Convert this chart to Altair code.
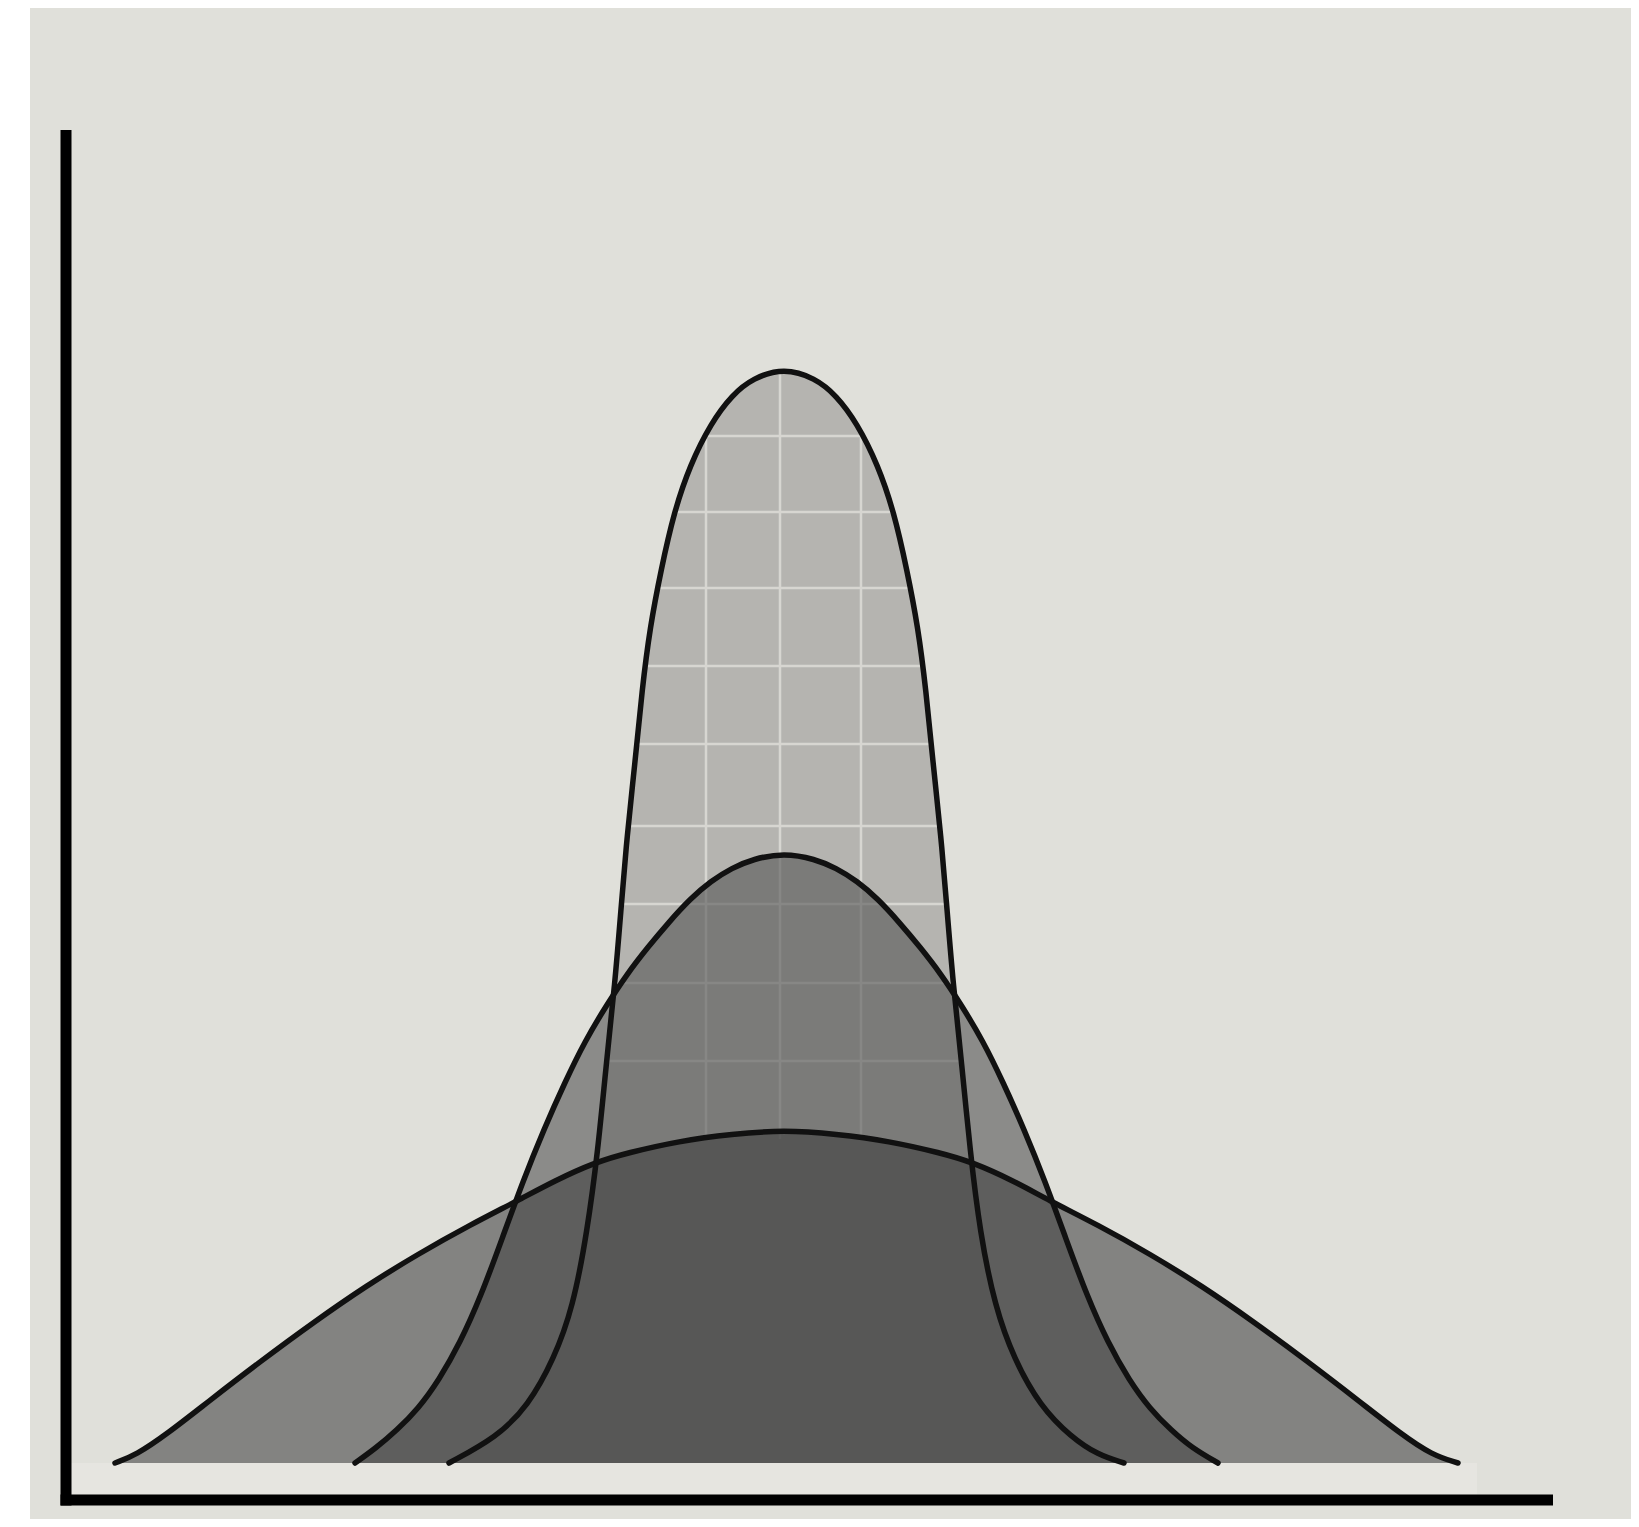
import altair as alt
import pandas as pd
import numpy as np

# Offsets from the common centre (x) and heights above the baseline (h)
narrow_x = [-338, -290, -259, -233, -214, -200, -189, -181, -172, -166, -160, -152, -145, -137, -126,
            -113, -97, -76, -55, -34, -3,
            28, 49, 70, 91, 107, 120, 131, 139, 146, 154, 160, 166, 175, 183, 193, 208, 227, 253,
            284, 311, 337]
narrow_h = [0, 26, 57, 104, 156, 230, 313, 397, 480, 554, 627, 700, 773, 836, 893,
            951, 998, 1040, 1068, 1085, 1095,
            1085, 1068, 1040, 998, 951, 893, 836, 773, 700, 627, 554, 480, 397, 313, 230, 156, 104, 57,
            26, 8, 0]

middle_x = [-432, -411, -390, -369, -348, -327, -306, -285, -264, -243, -222, -202, -181, -160, -139,
            -118, -97, -76, -55, -34, -3,
            28, 49, 70, 91, 112, 133, 154, 175, 196, 216, 237, 258, 279, 300, 321, 342, 363, 384,
            405, 431]
middle_h = [0, 15, 33, 54, 83, 120, 167, 224, 282, 334, 381, 422, 457, 489, 516,
            541, 564, 582, 595, 604, 610,
            604, 595, 582, 564, 541, 516, 489, 457, 422, 381, 334, 282, 224, 167, 120, 83, 54, 33,
            15, 0]

wide_x = [-672, -651, -620, -578, -526, -473, -421, -369, -317, -268, -233, -191, -160, -108, -55, -3,
          49, 102, 154, 185, 227, 261, 311, 363, 415, 467, 520, 572, 614, 645, 671]
wide_h = [0, 8, 29, 62, 102, 141, 177, 209, 238, 263, 282, 301, 310, 322, 329, 333,
          329, 322, 310, 301, 282, 263, 238, 209, 177, 141, 102, 62, 29, 8, 0]

grid_v_x = [-81, -7, 74]
grid_h_y = [1027, 951, 875, 797, 719, 637, 559, 480, 402]
grid_floor = 324

axis_x = -721
axis_y = -37
axis_top = 1333
axis_bottom = -42.5
axis_left = -726.5
axis_right = 766

band_left = -716
band_right = 690
band_bottom = -31.5

X_DOMAIN = [-757, 844]
Y_DOMAIN = [-56, 1455]

xs = alt.Scale(domain=X_DOMAIN, nice=False, zero=False)
ys = alt.Scale(domain=Y_DOMAIN, nice=False, zero=False)

narrow = pd.DataFrame({"x": narrow_x, "h": narrow_h})
middle = pd.DataFrame({"x": middle_x, "h": middle_h})
wide = pd.DataFrame({"x": wide_x, "h": wide_h})

# grid inside the narrow curve
nx = np.array(narrow_x, dtype=float)
nh = np.array(narrow_h, dtype=float)
pk = int(np.argmax(nh))
left_x = np.interp(grid_h_y, nh[:pk + 1], nx[:pk + 1])
right_x = np.interp(grid_h_y, nh[pk:][::-1], nx[pk:][::-1])
hgrid = pd.DataFrame({"x": left_x, "x2": right_x, "y": grid_h_y})
vtop = np.interp(grid_v_x, nx, nh)
vgrid = pd.DataFrame({"x": grid_v_x, "y": [grid_floor] * len(grid_v_x), "y2": vtop})

LINE_W = 5.5
INTERP = "basis"


def area(df, color, opacity):
    return alt.Chart(df).mark_area(interpolate=INTERP, color=color, opacity=opacity).encode(
        x=alt.X("x:Q", scale=xs, axis=None),
        y=alt.Y("h:Q", scale=ys, axis=None),
        y2=alt.datum(0),
    )


def outline(df):
    return alt.Chart(df).mark_line(interpolate=INTERP, color="#111111", strokeWidth=LINE_W,
                                   strokeCap="round").encode(
        x=alt.X("x:Q", scale=xs, axis=None),
        y=alt.Y("h:Q", scale=ys, axis=None),
    )


band = alt.Chart(pd.DataFrame({"x": [band_left], "x2": [band_right], "y": [band_bottom], "y2": [0]})).mark_rect(
    color="#E6E5E0").encode(
    x=alt.X("x:Q", scale=xs, axis=None), x2="x2:Q", y=alt.Y("y:Q", scale=ys, axis=None), y2="y2:Q")

narrow_fill = area(narrow, "#B5B4B0", 1)
hg = alt.Chart(hgrid).mark_rule(color="#D7D6D1", strokeWidth=2.5).encode(
    x=alt.X("x:Q", scale=xs, axis=None), x2="x2:Q", y=alt.Y("y:Q", scale=ys, axis=None))
vg = alt.Chart(vgrid).mark_rule(color="#D7D6D1", strokeWidth=2.5).encode(
    x=alt.X("x:Q", scale=xs, axis=None), y=alt.Y("y:Q", scale=ys, axis=None), y2="y2:Q")
middle_fill = area(middle, "#595959", 0.636)
wide_fill = area(wide, "#3A3A3A", 0.56)

vaxis = alt.Chart(pd.DataFrame({"x": [axis_x], "y": [axis_top], "y2": [axis_bottom]})).mark_rule(
    color="#000000", strokeWidth=11, strokeCap="butt").encode(
    x=alt.X("x:Q", scale=xs, axis=None), y=alt.Y("y:Q", scale=ys, axis=None), y2="y2:Q")
haxis = alt.Chart(pd.DataFrame({"x": [axis_left], "x2": [axis_right], "y": [axis_y]})).mark_rule(
    color="#000000", strokeWidth=11, strokeCap="butt").encode(
    x=alt.X("x:Q", scale=xs, axis=None), x2="x2:Q", y=alt.Y("y:Q", scale=ys, axis=None))

chart = alt.layer(
    band, narrow_fill, hg, vg, middle_fill, wide_fill,
    outline(narrow), outline(middle), outline(wide),
    vaxis, haxis,
).properties(
    width=1601, height=1511,
    background="#FFFFFF",
    padding={"left": 22, "top": 0, "right": 0, "bottom": 0},
).configure_view(fill="#E0E0DA", stroke=None)

chart.save("out.html", embed_options={"renderer": "svg", "actions": False})
